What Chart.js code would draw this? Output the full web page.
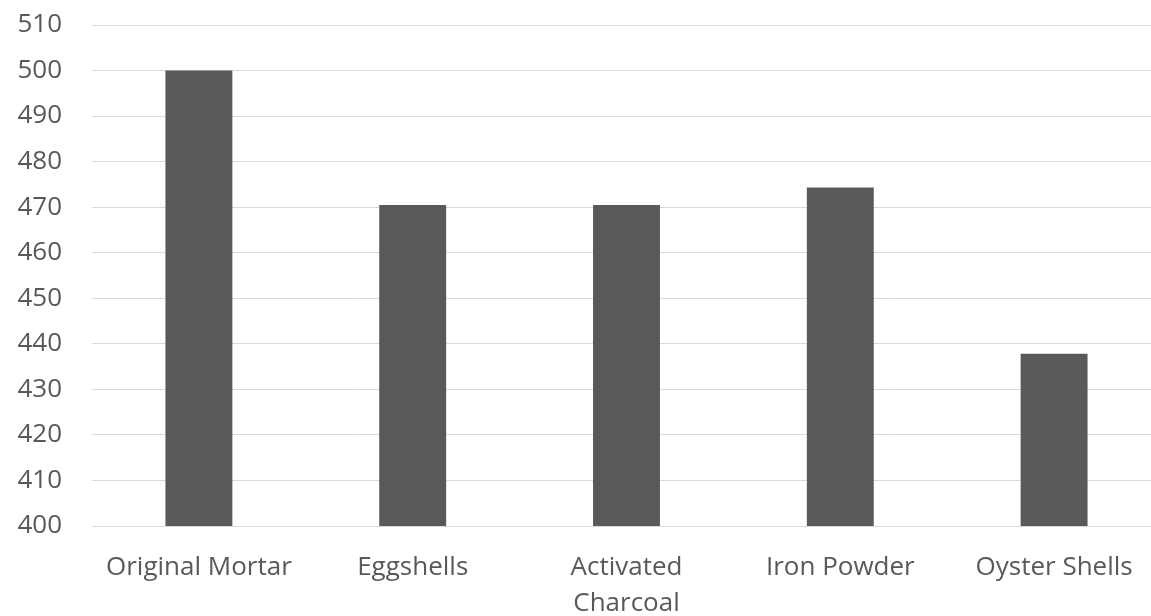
<!DOCTYPE html>
<html>
<head>
<meta charset="utf-8">
<script src="https://cdn.jsdelivr.net/npm/chart.js@4"></script>
<style>
  html, body { margin: 0; padding: 0; background: #ffffff; overflow: hidden; }
  #wrap { width: 1151px; height: 616px; position: relative; overflow: hidden; }
</style>
</head>
<body>
<div id="wrap"><canvas id="c" width="1161" height="616"></canvas></div>
<script>
// Mix materials and their measured values
const categories = ['Original Mortar', 'Eggshells', ['Activated', 'Charcoal'], 'Iron Powder', 'Oyster Shells'];
const values = [500, 470.5, 470.5, 474.3, 437.8];
const yMin = 400;
const yMax = 510;
const yStep = 10;

const labelColor = '#595959';
const gridColor = '#d9d9d9';
const fontFamily = '"Open Sans", Lato, "Liberation Sans", sans-serif';

new Chart(document.getElementById('c'), {
  type: 'bar',
  data: {
    labels: categories,
    datasets: [{
      data: values,
      backgroundColor: '#595959',
      borderWidth: 0,
      categoryPercentage: 1.0,
      barPercentage: 0.313
    }]
  },
  options: {
    responsive: false,
    animation: false,
    layout: { padding: { top: 25, right: 0, left: 0, bottom: 0 } },
    plugins: { legend: { display: false }, tooltip: { enabled: false } },
    scales: {
      y: {
        min: yMin,
        max: yMax,
        ticks: {
          stepSize: yStep,
          padding: 30,
          color: labelColor,
          font: { family: fontFamily, size: 26 }
        },
        grid: { color: gridColor, lineWidth: 1, drawTicks: false },
        border: { display: false },
        afterFit(scale) {
          scale.width = 92;
          scale.paddingTop = 0;
          scale.paddingBottom = 0;
        }
      },
      x: {
        ticks: {
          padding: 24,
          color: labelColor,
          maxRotation: 0,
          autoSkip: false,
          font: { family: fontFamily, size: 26, lineHeight: 1.38 }
        },
        grid: { display: false, drawTicks: false },
        border: { display: true, color: gridColor, width: 1 },
        afterFit(scale) {
          scale.height = 90;
          scale.paddingLeft = 0;
          scale.paddingRight = 0;
        }
      }
    }
  }
});
</script>
</body>
</html>
